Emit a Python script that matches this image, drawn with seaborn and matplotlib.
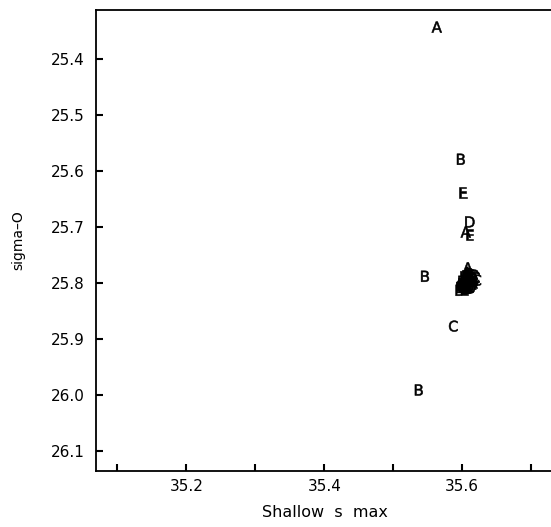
import matplotlib
matplotlib.use("Agg")
import matplotlib.pyplot as plt
import seaborn as sns
import pandas as pd

# Shallow salinity maximum vs. potential density, labelled by group
salinity = [35.563, 35.598, 35.601, 35.611, 35.605, 35.611, 35.546, 35.587, 35.537,
            35.608, 35.606, 35.611, 35.614, 35.603, 35.609, 35.616, 35.619, 35.601,
            35.605, 35.612, 35.617, 35.598, 35.602, 35.608, 35.613, 35.597, 35.600,
            35.606, 35.611, 35.615, 35.621, 35.604, 35.609, 35.603, 35.618,
            35.607, 35.610, 35.604, 35.599, 35.613, 35.606, 35.601, 35.610,
            35.616, 35.596, 35.608, 35.612]
sigma0 = [25.343, 25.579, 25.638, 25.691, 25.709, 25.714, 25.788, 25.877, 25.991,
          25.773, 25.787, 25.785, 25.790, 25.792, 25.794, 25.793, 25.791, 25.797,
          25.799, 25.798, 25.797, 25.803, 25.802, 25.804, 25.802, 25.808, 25.809,
          25.807, 25.806, 25.800, 25.795, 25.811, 25.810, 25.812, 25.789,
          25.781, 25.783, 25.789, 25.800, 25.795, 25.796, 25.805, 25.801,
          25.786, 25.813, 25.808, 25.809]
group = ["A", "B", "E", "D", "A", "E", "B", "C", "B",
         "A", "B", "C", "D", "E", "A", "B", "C", "D",
         "E", "A", "B", "C", "D", "E", "A", "B", "C",
         "D", "E", "A", "C", "B", "D", "E", "C",
         "A", "B", "D", "E", "A", "B", "D", "E",
         "C", "B", "A", "D"]

xticks = [35.1, 35.2, 35.3, 35.4, 35.5, 35.6, 35.7]
xticklabels = ["", "35.2", "", "35.4", "", "35.6", ""]
yticks = [25.4, 25.5, 25.6, 25.7, 25.8, 25.9, 26.0, 26.1]
yticklabels = ["25.4", "25.5", "25.6", "25.7", "25.8", "25.9", "26.0", "26.1"]

df = pd.DataFrame({"salinity": salinity, "sigma0": sigma0, "group": group})

sns.set_style("white", {"xtick.direction": "in", "ytick.direction": "in",
                        "xtick.bottom": True, "ytick.left": True})
plt.rcParams["font.family"] = ["DejaVu Sans"]

fig = plt.figure(figsize=(5.51, 5.27), dpi=100)
ax = fig.add_axes([96 / 551, 56 / 527, 1 - 96 / 551, 461 / 527])

letter_markers = {g: r"$\mathrm{%s}$" % g for g in "ABCDE"}
sns.scatterplot(data=df, x="salinity", y="sigma0", style="group",
                markers=letter_markers, color="black", edgecolor="black",
                s=62, linewidth=0.4, legend=False, ax=ax)

ax.set_xlim(35.069, 35.7286)
ax.set_ylim(26.1357, 25.3125)

ax.set_xticks(xticks)
ax.set_xticklabels(xticklabels, fontsize=11)
ax.set_yticks(yticks)
ax.set_yticklabels(yticklabels, fontsize=11)

for side in ["left", "bottom", "top"]:
    ax.spines[side].set_visible(True)
    ax.spines[side].set_color("black")
    ax.spines[side].set_linewidth(1.3)
ax.spines["right"].set_visible(False)

ax.set_xlabel("Shallow  s  max", fontsize=11.5, color="black")
ax.set_ylabel("sigma\u2013O", fontsize=10, color="black")
ax.xaxis.set_label_coords((325 - 96) / 455, -(505 - 471) / 461)
ax.yaxis.set_label_coords(-(96 - 25) / 455, (471 - 240) / 461)

ax.xaxis.set_tick_params(which="major", direction="in", length=5, width=1.5,
                         color="black", bottom=True, top=False, pad=6,
                         labelcolor="black")
ax.yaxis.set_tick_params(which="major", direction="in", length=5, width=1.5,
                         color="black", left=True, right=False, pad=8,
                         labelcolor="black")

fig.savefig("out.png", dpi=100)
